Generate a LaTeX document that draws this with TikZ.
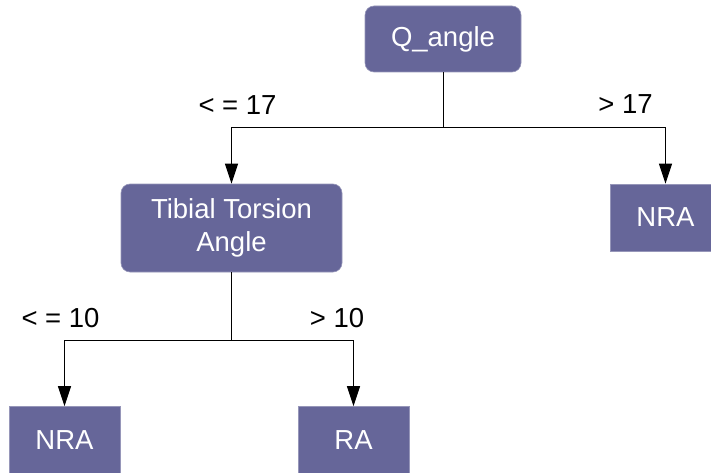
\documentclass[tikz,border=0pt]{standalone}
\usepackage{fontspec}
\setmainfont{Liberation Sans}
\usetikzlibrary{arrows.meta}
\definecolor{boxc}{RGB}{102,102,153}
\definecolor{boxb}{RGB}{150,150,185}
\begin{document}
\begin{tikzpicture}[x=1pt,y=-1pt,
  treebox/.style={fill=boxc,draw=boxb,line width=0.6pt,text=white,inner sep=0pt,
    font=\fontsize{27.5}{33}\selectfont,align=center},
  roundbox/.style={treebox,rounded corners=9pt},
  lbl/.style={inner sep=0pt,font=\fontsize{27.5}{33}\selectfont},
  conn/.style={line width=1pt,black},
  arr/.style={conn,-{Triangle[width=13pt,length=20pt]}}]
\useasboundingbox (0,0) rectangle (711,473);
\clip (0,0) rectangle (711,473);
\node[roundbox,minimum width=156pt,minimum height=66pt] (q) at (443,39) {Q\_angle};
\node[roundbox,minimum width=221pt,minimum height=88pt] (t) at (231.5,228) {Tibial Torsion\\Angle};
\node[treebox,minimum width=111pt,minimum height=67pt] (n1) at (665.5,217.5) {NRA};
\node[treebox,minimum width=111pt,minimum height=67pt] (n2) at (64.5,440) {NRA};
\node[treebox,minimum width=111pt,minimum height=67pt] (ra) at (353.5,440) {RA};
\coordinate (j1) at (443,128);
\coordinate (j2) at (231.5,340);
\draw[conn] (q.south) -- (j1);
\draw[arr] (j1) -| (t.north);
\draw[arr] (j1) -| (n1.north);
\draw[conn] (t.south) -- (j2);
\draw[arr] (j2) -| (n2.north);
\draw[arr] (j2) -| (ra.north);
\node[lbl] (l1) at (237.5,105) {< = 17};
\node[lbl] (l2) at (625.5,104) {> 17};
\node[lbl] (l3) at (60.5,318) {< = 10};
\node[lbl] (l4) at (337,318) {> 10};
\end{tikzpicture}
\end{document}
